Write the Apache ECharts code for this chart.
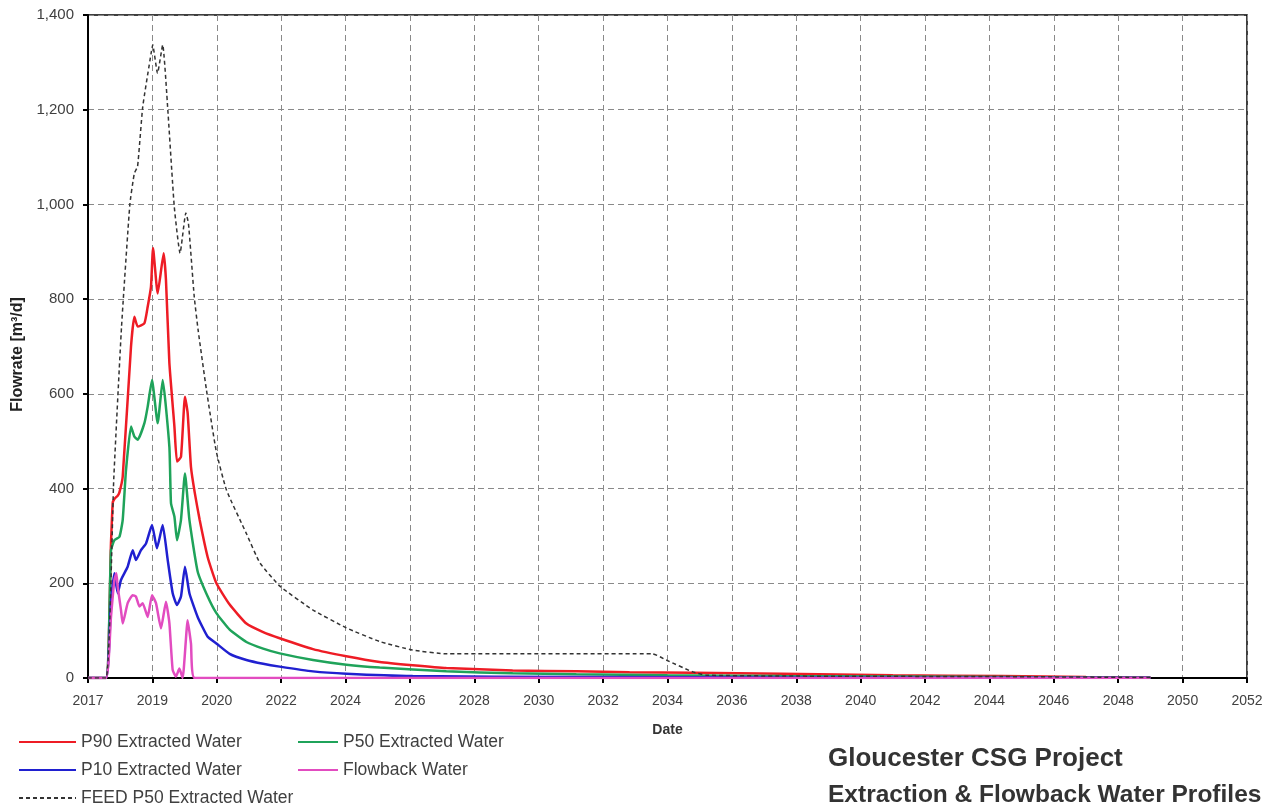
<!DOCTYPE html>
<html>
<head>
<meta charset="utf-8">
<script src="https://cdn.jsdelivr.net/npm/echarts@6/dist/echarts.min.js"></script>
<style>
html,body{margin:0;padding:0;background:#fff;}
#chart{width:1273px;height:809px;}
</style>
</head>
<body>
<div id="chart"></div>
<script>
// X positions are in axis tick-interval units (0 = first tick "2017", 18 = last tick "2052")
const tickLabels = ['2017','2019','2020','2022','2024','2026','2028','2030','2032','2034','2036','2038','2040','2042','2044','2046','2048','2050','2052'];
const yTicks = [0,200,400,600,800,1000,1200,1400];

const p90 = [[0,0],[0.28,0],[0.357,285],[0.384,370],[0.41,378],[0.461,385],[0.488,392],[0.539,425],[0.668,700],[0.72,763],[0.772,742],[0.876,749],[0.927,784],[0.978,826],[1.01,908],[1.082,812],[1.175,897],[1.211,840],[1.264,665],[1.342,531],[1.382,457],[1.444,467],[1.506,594],[1.548,559],[1.599,446],[1.657,392],[1.734,334],[1.859,255],[1.994,200],[2.2,155],[2.46,115],[2.72,97],[2.977,84],[3.494,61],[4.012,46],[4.53,34],[5.042,27],[5.565,21],[6.595,16],[7.584,14],[8.41,12],[9.4,11],[10.77,9],[12.5,6],[14.2,4],[15.5,2],[16.5,1]];
const p50 = [[0,0],[0.28,0],[0.357,270],[0.41,291],[0.488,298],[0.539,334],[0.59,439],[0.668,531],[0.72,510],[0.772,503],[0.876,538],[0.927,573],[0.994,629],[1.082,538],[1.16,629],[1.264,488],[1.289,369],[1.342,341],[1.382,291],[1.444,334],[1.506,432],[1.575,334],[1.703,225],[1.859,172],[1.994,137],[2.2,102],[2.46,76],[2.72,62],[2.977,52],[3.494,38],[4.012,28],[4.53,22],[5.565,14],[6.595,10],[7.584,8],[9.0,6],[10.77,4],[12.5,3],[14.2,2],[16.5,0.5]];
const p10 = [[0,0],[0.28,0],[0.357,158],[0.41,221],[0.461,179],[0.512,207],[0.616,235],[0.694,270],[0.745,249],[0.823,270],[0.901,284],[0.994,323],[1.071,274],[1.16,323],[1.238,249],[1.315,179],[1.382,154],[1.444,172],[1.506,235],[1.575,179],[1.703,129],[1.859,87],[1.994,73],[2.2,51],[2.46,38],[2.72,30],[2.977,24],[3.494,14],[4.012,9],[5.042,4],[7.584,2],[10.77,1],[16.5,0.3]];
const flowback = [[0,0],[0.28,0],[0.357,129],[0.41,207],[0.44,221],[0.461,193],[0.512,144],[0.539,115],[0.616,158],[0.694,175],[0.745,172],[0.798,151],[0.849,158],[0.927,129],[0.994,175],[1.056,158],[1.134,105],[1.211,161],[1.264,116],[1.315,17],[1.366,3],[1.419,20],[1.47,0],[1.548,122],[1.599,73],[1.657,0],[16.5,0]];
const feedP50 = [[0,0],[0.28,0],[0.40,420],[0.52,740],[0.65,1000],[0.72,1066],[0.77,1080],[0.85,1206],[0.98,1319],[1.005,1337],[1.08,1277],[1.16,1337],[1.24,1199],[1.34,995],[1.43,897],[1.52,982],[1.56,960],[1.65,805],[1.71,735],[1.84,608],[1.99,480],[2.15,397],[2.46,305],[2.67,243],[2.98,194],[3.49,144],[4.01,106],[4.53,77],[5.04,59],[5.57,51],[8.77,51],[8.98,38],[9.39,13],[9.6,6],[11.05,4],[14.2,3],[16.5,1]];

const chart = echarts.init(document.getElementById('chart'));
const FONT = '"Liberation Sans", Arial, sans-serif';
const gridLine = {show:true, lineStyle:{color:'#8a8a8a', type:[6,4], width:1}};
function line(name, data, color, width, dashed){
  return {name, type:'line', data, symbol:'none', smooth:0.15, z: dashed?3:2,
    lineStyle:{color, width, type: dashed ? [4,3] : 'solid'}, itemStyle:{color}};
}
const legendText = {fontFamily:FONT, fontSize:17.5, color:'#404040'};
chart.setOption({
  animation:false,
  backgroundColor:'#fff',
  grid:{left:88, right:26, top:15, bottom:131, show:true, borderColor:'#000', borderWidth:1.5, backgroundColor:'transparent'},
  xAxis:{type:'value', min:0, max:18, interval:1,
    name:'Date', nameLocation:'middle', nameGap:45,
    nameTextStyle:{fontFamily:FONT, fontWeight:'bold', fontSize:14, color:'#333'},
    axisLine:{show:true, lineStyle:{color:'#000', width:2}},
    axisTick:{show:true, length:5, lineStyle:{color:'#000', width:2}},
    axisLabel:{margin:16, fontFamily:FONT, fontSize:14, color:'#404040', formatter:(v)=>tickLabels[Math.round(v)] || ''},
    splitLine:gridLine},
  yAxis:{type:'value', min:yTicks[0], max:yTicks[yTicks.length-1], interval:200,
    name:'Flowrate [m³/d]', nameLocation:'middle', nameGap:62, nameRotate:90,
    nameTextStyle:{fontFamily:FONT, fontWeight:'bold', fontSize:16, color:'#222', padding:[0,16,0,0]},
    axisLine:{show:true, lineStyle:{color:'#000', width:2}},
    axisTick:{show:true, length:5, lineStyle:{color:'#000', width:2}},
    axisLabel:{margin:14, fontFamily:FONT, fontSize:15, color:'#404040', formatter:(v)=>v.toLocaleString('en-US')},
    splitLine:gridLine},
  legend:[
    {data:['P90 Extracted Water','P10 Extracted Water','FEED P50 Extracted Water'], orient:'vertical', left:18, top:733, padding:0,
     itemWidth:57, itemHeight:17, itemGap:10, itemStyle:{opacity:0}, textStyle:legendText},
    {data:['P50 Extracted Water','Flowback Water'], orient:'vertical', left:297, top:733, padding:0,
     itemWidth:40, itemHeight:17, itemGap:10, itemStyle:{opacity:0}, textStyle:legendText}
  ],
  graphic:[
    {type:'text', left:828, top:746, style:{text:'Gloucester CSG Project', font:'bold 26px "Liberation Sans", Arial, sans-serif', fill:'#333'}},
    {type:'text', left:828, top:783, style:{text:'Extraction & Flowback Water Profiles', font:'bold 24.5px "Liberation Sans", Arial, sans-serif', fill:'#333'}}
  ],
  series:[
    line('P90 Extracted Water', p90, '#ee1c25', 2.5),
    line('P50 Extracted Water', p50, '#1fa35a', 2.5),
    line('P10 Extracted Water', p10, '#2020d0', 2.5),
    line('Flowback Water', flowback, '#e24cc0', 2.5),
    line('FEED P50 Extracted Water', feedP50, '#333', 1.5, true)
  ]
});
</script>
</body>
</html>
